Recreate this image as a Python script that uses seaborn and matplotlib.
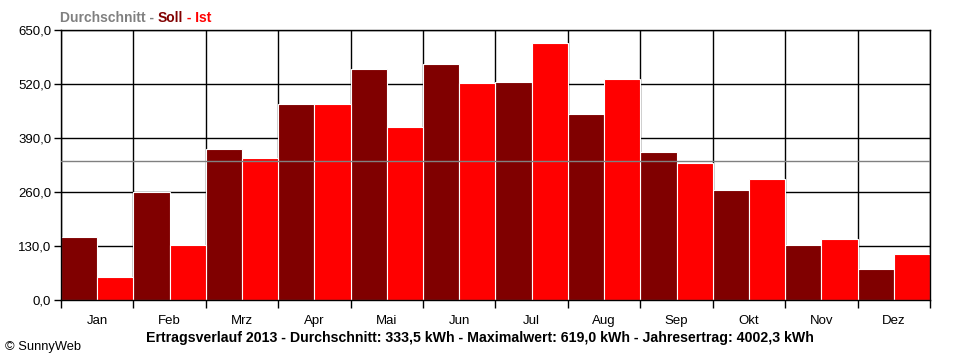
import matplotlib
matplotlib.use("Agg")
import pandas as pd
import matplotlib.pyplot as plt
import seaborn as sns

# Monatswerte (kWh)
months = ['Jan', 'Feb', 'Mrz', 'Apr', 'Mai', 'Jun', 'Jul', 'Aug', 'Sep', 'Okt', 'Nov', 'Dez']
soll = [152, 260, 363, 472, 556, 568, 525, 448, 356, 265, 132, 75]
ist = [55, 132, 342, 472, 416, 522, 619, 532, 329, 291, 147, 111]
average = 333.5
y_ticks = [0, 130, 260, 390, 520, 650]

df = pd.DataFrame({
    'Monat': months * 2,
    'Ertrag': soll + ist,
    'Reihe': ['Soll'] * len(months) + ['Ist'] * len(months),
})

sns.set_theme(style='white')
plt.rcParams['font.family'] = ['Liberation Sans', 'DejaVu Sans']

fig = plt.figure(figsize=(9.6, 3.6), dpi=100)
ax = fig.add_axes([61 / 960, 60 / 360, 869 / 960, 270 / 360])

sns.barplot(data=df, x='Monat', y='Ertrag', hue='Reihe', hue_order=['Soll', 'Ist'],
            palette={'Soll': '#800000', 'Ist': '#ff0000'}, width=1.0, saturation=1,
            edgecolor='white', linewidth=0.8, legend=False, ax=ax, zorder=2)

# Durchschnittslinie
ax.axhline(average, color='#808080', lw=1, zorder=3)

ax.set_xlim(-0.5, len(months) - 0.5)
ax.set_ylim(0, 650)
ax.set_xlabel('')
ax.set_ylabel('')

# Striche an den Monatsgrenzen, Beschriftung in der Mitte
bounds = [i - 0.5 for i in range(len(months) + 1)]
ax.set_xticks(bounds)
ax.set_xticklabels([])
ax.set_xticks(range(len(months)), minor=True)
ax.set_xticklabels(months, minor=True)
ax.set_yticks(y_ticks)
ax.set_yticklabels([f'{v:.1f}'.replace('.', ',') for v in y_ticks])

ax.tick_params(axis='x', which='major', direction='out', length=6, width=1, color='black', bottom=True)
ax.tick_params(axis='x', which='minor', length=0, pad=11, labelsize=9.5, labelcolor='black')
ax.tick_params(axis='y', direction='out', length=5, width=1, color='black', left=True,
               labelsize=9.5, labelcolor='black', pad=2)

ax.set_axisbelow(True)
ax.grid(True, which='major', color='black', linewidth=1)
for s in ax.spines.values():
    s.set_color('black')
    s.set_linewidth(1)

# Titel oben links in drei Farben
renderer = fig.canvas.get_renderer()
x = 60 / 960
for part, color in [('Durchschnitt - ', '#808080'), ('Soll', '#800000'), (' - Ist', '#ff0000')]:
    t = fig.text(x, 1 - 18 / 360, part, color=color, fontsize=10, fontweight='bold', va='center')
    x += t.get_window_extent(renderer).width / fig.bbox.width

fig.text(0.5, 22 / 360,
         'Ertragsverlauf 2013 - Durchschnitt: 333,5 kWh - Maximalwert: 619,0 kWh - Jahresertrag: 4002,3 kWh',
         ha='center', va='center', fontsize=10.2, fontweight='bold', color='black')
fig.text(5 / 960, 13 / 360, '© SunnyWeb', ha='left', va='center', fontsize=9.3, color='black')

fig.savefig('out.png', dpi=100)
